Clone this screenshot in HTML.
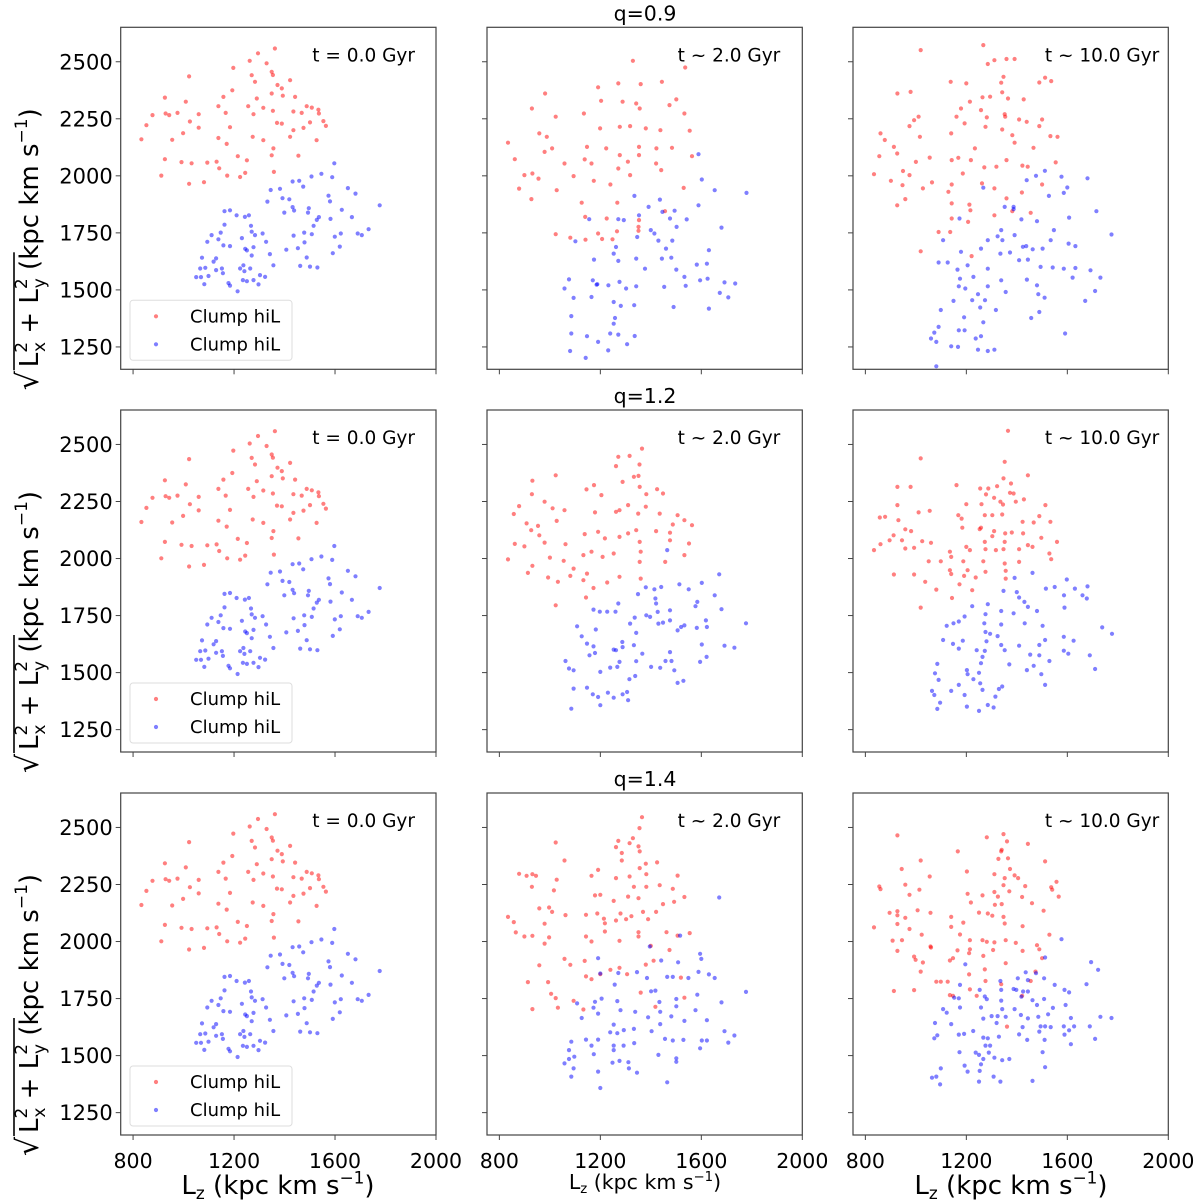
<!DOCTYPE html>
<html><head><meta charset="utf-8"><style>
html,body{margin:0;padding:0;background:#fff;}
svg{display:block;font-family:"DejaVu Sans","Liberation Sans",sans-serif;}
</style></head><body>
<svg id="chart" width="1200" height="1204" viewBox="0 0 1200 1204" xmlns="http://www.w3.org/2000/svg"></svg>
<script>
const xTicks=[800,1200,1600,2000];
const yTicks=[1250,1500,1750,2000,2250,2500];
const qLabels=["q=0.9","q=1.2","q=1.4"];
const tLabels=["t = 0.0 Gyr","t ~ 2.0 Gyr","t ~ 10.0 Gyr"];
const legendLabels=["Clump hiL","Clump hiL"];
const t0Red=[[833,2160],[853,2222],[877,2266],[926,2343],[929,2273],[943,2266],[976,2276],[1022,2436],[1009,2325],[1025,2238],[1060,2270],[1060,2211],[998,2187],[955,2158],[926,2073],[912,2001],[992,2060],[1032,2055],[1022,1965],[1081,1972],[1094,2058],[1131,2062],[1141,2033],[1173,2001],[1138,2305],[1158,2346],[1197,2473],[1193,2375],[1167,2276],[1184,2213],[1138,2166],[1171,2140],[1215,2086],[1224,1995],[1244,2013],[1251,2068],[1262,2504],[1295,2537],[1270,2441],[1283,2412],[1290,2339],[1256,2305],[1277,2270],[1274,2171],[1316,2156],[1316,2298],[1329,2493],[1349,2456],[1354,2442],[1362,2558],[1372,2398],[1389,2383],[1393,2351],[1349,2361],[1354,2285],[1370,2232],[1356,2120],[1349,2090],[1358,2017],[1389,2229],[1422,2419],[1442,2346],[1435,2282],[1422,2171],[1455,2088],[1488,2305],[1508,2299],[1468,2276],[1475,2210],[1501,2234],[1534,2290],[1536,2273],[1554,2240],[1564,2219],[1527,2156],[1435,2200]];
const t0Blue=[[1597,2055],[1546,2009],[1589,1994],[1507,1997],[1458,1978],[1432,1975],[1474,1953],[1651,1946],[1681,1922],[1777,1871],[1574,1913],[1580,1888],[1627,1851],[1667,1819],[1582,1811],[1536,1819],[1496,1858],[1493,1839],[1432,1863],[1438,1848],[1399,1839],[1419,1897],[1392,1902],[1382,1943],[1345,1938],[1332,1887],[1599,1733],[1623,1747],[1619,1690],[1690,1747],[1706,1740],[1733,1766],[1528,1807],[1515,1781],[1508,1744],[1478,1751],[1479,1708],[1453,1683],[1436,1738],[1407,1676],[1488,1642],[1462,1605],[1501,1602],[1530,1598],[1591,1661],[1356,1608],[1342,1657],[1327,1711],[1313,1747],[1283,1740],[1270,1755],[1267,1781],[1259,1827],[1243,1820],[1210,1827],[1184,1849],[1162,1845],[1162,1786],[1147,1751],[1111,1740],[1094,1711],[1138,1722],[1158,1695],[1184,1692],[1231,1727],[1244,1680],[1251,1673],[1277,1687],[1270,1651],[1237,1608],[1224,1594],[1241,1582],[1264,1594],[1303,1565],[1323,1557],[1297,1524],[1277,1543],[1251,1538],[1235,1543],[1214,1494],[1184,1519],[1178,1530],[1156,1573],[1152,1594],[1129,1587],[1099,1561],[1073,1641],[1086,1597],[1066,1594],[1050,1556],[1069,1556],[1082,1525],[1129,1638],[1119,1624]];
const q09t2Red=[[1329,2504],[1536,2475],[1191,2388],[1271,2405],[1360,2402],[1444,2412],[981,2361],[929,2295],[1023,2259],[958,2186],[988,2171],[1203,2329],[1288,2325],[1342,2317],[1356,2295],[1501,2335],[1474,2310],[1533,2273],[1135,2273],[1199,2208],[1277,2215],[1318,2218],[1380,2208],[1438,2200],[1554,2198],[834,2145],[861,2073],[979,2105],[1009,2120],[1147,2127],[1223,2120],[1353,2127],[1422,2120],[1484,2123],[1058,2054],[1138,2072],[1165,2054],[1277,2091],[1309,2062],[1353,2091],[1421,2054],[899,2003],[931,2010],[878,1944],[955,1988],[1027,1937],[1094,1999],[1174,1978],[1240,1962],[1271,2032],[1318,2003],[1441,2025],[1530,1947],[927,1898],[1563,2086],[1126,1882],[1267,1882],[1140,1820],[1225,1813],[1353,1806],[1351,1776],[1023,1744],[1081,1729],[1141,1720],[1191,1747],[1207,1723],[1266,1757],[1351,1759],[1456,1845],[1248,1722]];
const q09t2Blue=[[1589,2095],[1602,1984],[1653,1937],[1779,1925],[1335,1912],[1436,1896],[1589,1871],[1391,1864],[1446,1842],[1494,1847],[1542,1809],[1476,1813],[1502,1776],[1680,1773],[1353,1827],[1156,1810],[1271,1810],[1293,1806],[1400,1762],[1414,1747],[1346,1732],[1101,1713],[1430,1716],[1460,1681],[1485,1716],[1630,1674],[1262,1688],[1253,1659],[1175,1633],[1271,1627],[1342,1637],[1377,1593],[1444,1637],[1481,1641],[1582,1611],[1622,1615],[1501,1589],[1533,1557],[1595,1542],[1625,1549],[1692,1533],[1734,1528],[1076,1546],[1058,1506],[1170,1542],[1188,1525],[1232,1520],[1276,1535],[1302,1506],[1342,1516],[1453,1513],[1538,1518],[1094,1465],[1165,1469],[1253,1447],[1281,1430],[1334,1433],[1490,1425],[1673,1487],[1707,1467],[1630,1418],[1085,1385],[1258,1377],[1253,1352],[1085,1309],[1147,1297],[1191,1272],[1239,1309],[1271,1304],[1336,1298],[1306,1262],[1080,1232],[1142,1202],[1231,1235],[1185,1523]];
const q09t10Red=[[1267,2573],[1019,2551],[1285,2490],[1311,2507],[1359,2512],[1391,2512],[1347,2434],[1138,2412],[1200,2405],[1338,2408],[1489,2409],[1512,2430],[1536,2415],[927,2361],[979,2368],[1214,2325],[1264,2344],[1294,2347],[1342,2366],[1365,2339],[1427,2335],[1011,2259],[993,2244],[1161,2259],[1179,2295],[1258,2288],[1281,2256],[1352,2270],[1354,2259],[1409,2247],[1439,2237],[1500,2247],[860,2186],[877,2157],[913,2127],[975,2218],[1016,2171],[1140,2186],[1193,2230],[1276,2215],[1342,2203],[1382,2178],[1391,2145],[1533,2174],[1561,2171],[1489,2218],[834,2007],[855,2086],[926,2098],[949,2021],[975,2003],[901,1978],[947,1959],[1000,2061],[1055,2080],[1064,1971],[1142,2069],[1168,2079],[1186,2010],[1218,2069],[1234,2120],[1271,2037],[1319,2040],[1359,2069],[1422,2045],[1443,2040],[1466,2123],[1554,2059],[1142,1962],[1129,1930],[1262,1967],[1311,1945],[1359,1901],[1420,1927],[1500,1962],[926,1871],[958,1898],[1028,1945],[1142,1879],[1212,1874],[1216,1849],[1311,1827],[1382,1845],[1455,1838],[1142,1813],[1207,1798],[1090,1754],[1136,1754],[1019,1669],[1221,1648]];
const q09t10Blue=[[1267,1948],[1476,2000],[1511,2022],[1577,1996],[1680,1989],[1439,1981],[1600,1949],[1586,1925],[1527,1912],[1352,1864],[1387,1864],[1387,1854],[1715,1845],[1607,1817],[1418,1809],[1480,1801],[1547,1762],[1173,1813],[1775,1743],[1285,1718],[1338,1762],[1324,1735],[1391,1740],[1343,1718],[1424,1689],[1437,1692],[1463,1678],[1502,1681],[1534,1718],[1605,1703],[1632,1692],[1108,1718],[1179,1667],[1258,1681],[1090,1620],[1126,1620],[1165,1589],[1205,1608],[1285,1593],[1335,1659],[1373,1664],[1409,1630],[1444,1633],[1494,1601],[1542,1598],[1586,1593],[1632,1596],[1692,1586],[1731,1554],[1621,1554],[1175,1549],[1228,1557],[1338,1542],[1440,1545],[1170,1516],[1196,1506],[1246,1481],[1285,1516],[1356,1491],[1480,1520],[1485,1481],[1510,1466],[1710,1495],[1671,1452],[1149,1452],[1223,1455],[1255,1423],[1274,1455],[1099,1412],[1317,1412],[1191,1380],[1267,1358],[1457,1377],[1489,1403],[1073,1313],[1090,1338],[1170,1323],[1193,1323],[1060,1287],[1081,1272],[1237,1287],[1258,1297],[1140,1253],[1167,1250],[1246,1238],[1285,1232],[1311,1238],[1591,1309],[1081,1165]];
const q12t2Red=[[1365,2482],[1271,2446],[1316,2450],[1355,2412],[1023,2365],[931,2341],[1262,2405],[1333,2358],[1351,2362],[1175,2322],[1145,2303],[1288,2336],[1356,2314],[1425,2304],[1448,2285],[1382,2282],[929,2282],[878,2230],[979,2249],[1011,2220],[1058,2212],[857,2195],[908,2154],[953,2143],[1027,2165],[1179,2202],[1204,2278],[1262,2205],[1276,2212],[1310,2234],[1350,2197],[1380,2227],[1435,2197],[1506,2190],[1533,2168],[1563,2146],[1487,2149],[926,2124],[958,2102],[861,2064],[899,2053],[979,2070],[1062,2063],[1138,2107],[1191,2117],[1218,2088],[1276,2095],[1310,2110],[1342,2124],[1421,2120],[1476,2113],[1356,2073],[1476,2080],[1551,2066],[834,1996],[913,1937],[931,1968],[1000,2004],[1055,1990],[1133,2015],[1165,2030],[1209,2007],[1253,2022],[1360,2030],[1356,1985],[1457,1985],[1533,2015],[1094,1956],[1147,1934],[993,1917],[1032,1898],[1081,1924],[1133,1905],[1227,1895],[1276,1920],[1360,1912],[1173,1871],[1143,1829],[1023,1795]];
const q12t2Blue=[[1465,2037],[1671,1931],[1602,1893],[1513,1887],[1550,1865],[1380,1874],[1414,1865],[1441,1875],[1349,1844],[1418,1825],[1421,1803],[1653,1839],[1584,1810],[1577,1791],[1680,1778],[1173,1776],[1198,1767],[1227,1767],[1260,1767],[1271,1803],[1382,1751],[1397,1744],[1427,1766],[1476,1773],[1448,1719],[1430,1715],[1476,1729],[1336,1741],[1318,1715],[1520,1700],[1533,1707],[1582,1696],[1618,1729],[1622,1700],[1777,1716],[1506,1685],[1342,1674],[1182,1689],[1108,1703],[1126,1659],[1147,1627],[1173,1615],[1253,1601],[1262,1598],[1287,1634],[1288,1612],[1333,1620],[1366,1583],[1342,1550],[1276,1547],[1267,1525],[1239,1522],[1200,1503],[1157,1576],[1179,1586],[1062,1551],[1076,1518],[1094,1510],[1401,1525],[1437,1521],[1458,1551],[1482,1551],[1476,1590],[1602,1623],[1621,1569],[1595,1547],[1692,1618],[1731,1609],[1493,1510],[1506,1455],[1529,1464],[1315,1471],[1338,1485],[1094,1430],[1147,1434],[1170,1405],[1230,1412],[1253,1390],[1288,1405],[1310,1379],[1306,1415],[1191,1393],[1200,1357],[1085,1342]];
const q12t10Red=[[1365,2560],[1019,2439],[1352,2424],[1444,2365],[1347,2351],[1377,2329],[927,2314],[979,2314],[1255,2307],[1287,2307],[1322,2317],[1161,2322],[1278,2281],[1373,2288],[1387,2285],[1310,2266],[1260,2238],[1335,2249],[1345,2237],[1396,2249],[1428,2259],[1200,2238],[1513,2234],[927,2234],[1011,2202],[1055,2209],[857,2180],[878,2183],[931,2168],[1168,2190],[1181,2175],[1273,2190],[1303,2190],[1342,2193],[1489,2186],[1423,2161],[1467,2158],[1533,2161],[958,2128],[981,2120],[1258,2135],[1253,2129],[1310,2120],[1354,2110],[1380,2114],[1425,2110],[1184,2135],[912,2102],[896,2080],[945,2080],[1025,2076],[1060,2069],[834,2037],[860,2063],[958,2044],[993,2047],[1273,2073],[1303,2098],[1352,2073],[1444,2059],[1497,2091],[1462,2051],[1559,2073],[1200,2051],[1214,2037],[1276,2041],[1317,2037],[1347,2041],[1409,2041],[1529,2022],[1536,1997],[1135,2030],[1140,2007],[1051,1988],[1099,1988],[1188,1988],[1267,1988],[1352,1978],[1409,1985],[1135,1949],[1205,1949],[1276,1942],[1356,1946],[1140,1932],[1191,1924],[1237,1917],[1356,1912],[913,1930],[993,1930],[1037,1898],[1173,1887],[1081,1864],[1223,1861],[1143,1827],[1019,1785]];
const q12t10Blue=[[1391,1915],[1462,1937],[1598,1908],[1515,1868],[1550,1875],[1630,1868],[1680,1878],[1347,1858],[1400,1853],[1409,1829],[1430,1810],[1587,1839],[1660,1839],[1677,1825],[1444,1788],[1589,1785],[1223,1791],[1285,1800],[1338,1770],[1387,1760],[1480,1770],[1276,1756],[1193,1746],[1170,1724],[1149,1716],[1122,1705],[1271,1716],[1338,1711],[1431,1716],[1502,1705],[1738,1698],[1777,1670],[1276,1678],[1294,1670],[1324,1660],[1108,1643],[1147,1626],[1186,1640],[1280,1637],[1338,1621],[1409,1618],[1489,1621],[1512,1643],[1586,1657],[1625,1640],[1586,1596],[1604,1583],[1689,1576],[1170,1605],[1241,1598],[1273,1595],[1352,1598],[1453,1579],[1489,1576],[1529,1551],[1264,1569],[1258,1541],[1370,1536],[1467,1530],[1440,1511],[1710,1516],[1085,1538],[1076,1497],[1090,1468],[1202,1511],[1250,1499],[1205,1493],[1497,1493],[1512,1446],[1228,1471],[1255,1453],[1170,1446],[1140,1420],[1064,1420],[1193,1402],[1264,1424],[1329,1428],[1342,1439],[1315,1395],[1073,1402],[1096,1368],[1085,1341],[1202,1351],[1250,1332],[1285,1358],[1308,1347]];
const q14t2Red=[[1365,2545],[1355,2497],[1329,2453],[1271,2441],[1316,2431],[1351,2417],[1356,2395],[1262,2414],[1285,2388],[1023,2434],[1058,2355],[1285,2355],[1380,2341],[1425,2347],[1356,2322],[1191,2314],[1165,2288],[1262,2278],[1316,2285],[1382,2295],[1506,2289],[878,2297],[908,2288],[931,2295],[945,2288],[929,2240],[1027,2271],[1016,2224],[1333,2240],[1382,2240],[1435,2247],[1487,2231],[1533,2195],[1179,2202],[1200,2205],[1253,2178],[1310,2197],[1351,2190],[1448,2164],[1492,2174],[958,2145],[997,2149],[1009,2130],[834,2108],[857,2085],[979,2078],[1062,2116],[1143,2117],[1188,2123],[1214,2100],[1280,2123],[1323,2111],[1369,2130],[1421,2130],[1218,2080],[1262,2092],[1302,2098],[1389,2098],[865,2040],[899,2022],[931,2025],[997,2018],[979,1991],[1143,2022],[1165,2000],[1218,2044],[1276,2003],[1351,2041],[1351,2022],[1462,2041],[1506,2026],[1554,2037],[1474,1963],[1400,1981],[1138,1915],[1058,1924],[1081,1898],[958,1896],[1143,1847],[1165,1835],[1200,1857],[1240,1876],[1276,1885],[1306,1857],[1380,1899],[1411,1916],[913,1822],[993,1822],[1005,1771],[1023,1752],[931,1704],[1032,1710],[1094,1740],[1133,1702],[1360,1776],[1418,1714],[1533,1754],[1519,1842]];
const q14t2Blue=[[1671,2193],[1516,2026],[1396,1978],[1595,1946],[1600,1924],[1191,1927],[1441,1917],[1508,1909],[1200,1860],[1271,1862],[1345,1866],[1385,1840],[1465,1845],[1487,1845],[1549,1840],[1589,1867],[1630,1856],[1653,1840],[1257,1811],[1401,1782],[1418,1785],[1777,1779],[1584,1767],[1205,1750],[1179,1736],[1108,1729],[1267,1739],[1280,1699],[1338,1692],[1173,1710],[1434,1735],[1501,1748],[1501,1716],[1680,1733],[1437,1692],[1577,1699],[1191,1684],[1126,1665],[1253,1636],[1389,1668],[1437,1638],[1481,1672],[1533,1652],[1622,1655],[1239,1602],[1267,1598],[1293,1612],[1333,1617],[1403,1607],[1085,1561],[1143,1570],[1191,1570],[1165,1544],[1253,1544],[1292,1544],[1334,1555],[1456,1573],[1487,1566],[1529,1569],[1602,1566],[1622,1566],[1692,1607],[1731,1588],[1595,1532],[1707,1557],[1076,1524],[1097,1495],[1174,1506],[1253,1524],[1430,1503],[1501,1488],[1501,1473],[1058,1466],[1076,1485],[1248,1469],[1276,1477],[1311,1471],[1094,1444],[1191,1430],[1313,1444],[1345,1425],[1085,1408],[1465,1383],[1200,1358]];
const q14t10Red=[[927,2465],[1347,2471],[1361,2439],[1281,2457],[1444,2428],[1166,2395],[1340,2402],[1338,2395],[1327,2362],[1365,2365],[1512,2351],[1019,2355],[944,2318],[1202,2307],[1373,2318],[1311,2295],[1352,2278],[1055,2285],[1391,2290],[1405,2278],[855,2241],[860,2230],[958,2249],[975,2205],[1014,2227],[1347,2247],[1433,2243],[1536,2238],[1540,2227],[1557,2262],[1566,2197],[1205,2209],[1264,2202],[1311,2217],[1325,2197],[1370,2220],[1313,2161],[1340,2164],[1421,2195],[1460,2168],[1218,2171],[896,2126],[927,2133],[927,2115],[958,2104],[1007,2137],[1058,2126],[1250,2127],[1285,2123],[1303,2113],[1347,2108],[1352,2079],[1423,2067],[1506,2135],[834,2062],[927,2077],[975,2055],[1023,2030],[1140,2108],[1140,2064],[1188,2083],[1214,2006],[1175,2031],[1264,2006],[1281,1999],[1311,1996],[1356,2006],[1396,1994],[1480,1984],[1489,1966],[1529,2030],[908,2004],[945,2006],[927,1959],[993,1934],[999,1920],[1028,1908],[1058,1978],[1060,1974],[1135,1917],[1147,1927],[1165,1961],[1214,1966],[1211,1949],[1267,1937],[1306,1963],[1356,1905],[1423,1959],[1474,1868],[1500,1927],[1019,1868],[1081,1824],[1099,1824],[1126,1824],[1273,1878],[1276,1827],[1338,1813],[1211,1856],[913,1783],[993,1787],[1135,1765],[1147,1762],[1214,1790],[1361,1627],[1421,1762],[1241,1762],[1455,1827]];
const q14t10Blue=[[1577,2010],[1512,1930],[1694,1910],[1722,1876],[1196,1900],[1435,1865],[1476,1861],[1404,1839],[1444,1831],[1508,1839],[1335,1827],[1175,1810],[1398,1788],[1387,1792],[1338,1788],[1425,1781],[1444,1781],[1550,1810],[1589,1788],[1607,1777],[1676,1813],[1253,1788],[1273,1759],[1152,1754],[1170,1751],[1281,1747],[1338,1741],[1418,1758],[1462,1743],[1480,1722],[1508,1748],[1543,1709],[1593,1722],[1108,1704],[1122,1688],[1175,1711],[1258,1711],[1342,1704],[1391,1704],[1300,1673],[1324,1673],[1356,1670],[1416,1678],[1444,1663],[1485,1670],[1524,1681],[1614,1665],[1731,1670],[1775,1665],[1076,1643],[1140,1638],[1267,1662],[1320,1643],[1423,1625],[1494,1628],[1512,1628],[1534,1625],[1586,1628],[1627,1628],[1689,1628],[1589,1592],[1607,1611],[1085,1589],[1073,1576],[1170,1592],[1191,1595],[1227,1608],[1267,1579],[1285,1576],[1329,1583],[1409,1593],[1489,1605],[1510,1569],[1441,1569],[1276,1544],[1294,1544],[1710,1573],[1614,1550],[1173,1515],[1237,1513],[1250,1503],[1289,1513],[1502,1515],[1267,1485],[1311,1491],[1342,1480],[1370,1485],[1193,1456],[1258,1462],[1512,1449],[1205,1430],[1253,1433],[1099,1444],[1064,1403],[1081,1408],[1096,1374],[1308,1408],[1335,1386],[1250,1386],[1462,1389]];

const panelData=[
 [[t0Red,t0Blue],[q09t2Red,q09t2Blue],[q09t10Red,q09t10Blue]],
 [[t0Red,t0Blue],[q12t2Red,q12t2Blue],[q12t10Red,q12t10Blue]],
 [[t0Red,t0Blue],[q14t2Red,q14t2Blue],[q14t10Red,q14t10Blue]]
];
const NS="http://www.w3.org/2000/svg";
const svg=document.getElementById('chart');
const colLeft=[120.7,487,853], rowTop=[27.3,410,793], PW=315.3, PH=342;
const annRight=[21,22,9];
const XMIN=751,XMAX=2000,YMIN=1152,YMAX=2651;
function mk(tag,attrs,parent){const e=document.createElementNS(NS,tag);for(const k in attrs)e.setAttribute(k,attrs[k]);(parent||svg).appendChild(e);return e;}
function xs(c,v){return colLeft[c]+(v-XMIN)/(XMAX-XMIN)*PW;}
function ys(r,v){return rowTop[r]+PH-(v-YMIN)/(YMAX-YMIN)*PH;}
const colors=["rgba(255,0,0,0.5)","rgba(0,0,255,0.5)"];
for(let r=0;r<3;r++){
 for(let c=0;c<3;c++){
  const g=mk('g',{});
  
  
  const clipId='clip'+r+c;
  const cp=mk('clipPath',{id:clipId},g);
  mk('rect',{x:colLeft[c],y:rowTop[r],width:PW,height:PH},cp);
  const pts=mk('g',{'clip-path':'url(#'+clipId+')'},g);
  panelData[r][c].forEach((series,si)=>{
   const sg=mk('g',{fill:colors[si]},pts);
   
   
   series.forEach(p=>{
    const dot=mk('circle',{cx:xs(c,p[0]).toFixed(1),cy:ys(r,p[1]).toFixed(1),r:2.1},sg);
    
    
   });
  });
  const frame=mk('rect',{x:colLeft[c],y:rowTop[r],width:PW,height:PH,fill:'none',stroke:'#444','stroke-width':1.2},g);
  
  
  xTicks.forEach(t=>{
   const x=xs(c,t);
   mk('line',{x1:x,x2:x,y1:rowTop[r]+PH,y2:rowTop[r]+PH+5,stroke:'#444','stroke-width':1},g);
   if(r===2){
    const tl=mk('text',{x:x,y:1168,'text-anchor':'middle','font-size':20.5,fill:'#000'},g);
    tl.textContent=t;
    
    
   }
  });
  yTicks.forEach(t=>{
   const y=ys(r,t);
   mk('line',{x1:colLeft[c]-5,x2:colLeft[c],y1:y,y2:y,stroke:'#444','stroke-width':1},g);
   if(c===0){
    const tl=mk('text',{x:colLeft[c]-8,y:y+7.5,'text-anchor':'end','font-size':21,fill:'#000'},g);
    tl.textContent=t;
    
    
   }
  });
  const ann=mk('text',{x:colLeft[c]+PW-annRight[c],y:rowTop[r]+34,'text-anchor':'end','font-size':18.5,fill:'#000'},g);
  ann.textContent=tLabels[c];
  
  
  if(c===0){
   const lg=mk('g',{},g);
   
   
   mk('rect',{x:130,y:rowTop[r]+273,width:162,height:60,rx:3,fill:'#fff',stroke:'#ddd'},lg);
   legendLabels.forEach((lab,i)=>{
    const yy=rowTop[r]+289+i*28;
    mk('circle',{cx:156,cy:yy,r:2.1,fill:colors[i]},lg);
    const lt=mk('text',{x:190,y:yy+6,'font-size':18,fill:'#000'},lg);
    lt.textContent=lab;
    
    
   });
   const cy=rowTop[r]+185;
   const yt=mk('g',{transform:'translate(38,'+cy+') rotate(-90)'},g);
   
   
   const rad=mk('text',{x:-178,y:0,'font-size':30,fill:'#000'},yt);
   rad.textContent='√';
   mk('line',{x1:-158,x2:-40,y1:-24,y2:-24,stroke:'#000','stroke-width':1.6},yt);
   const tt=mk('text',{x:-155,y:0,'font-size':26,fill:'#000'},yt);
   tt.innerHTML='L<tspan font-size="17" dy="-11">2</tspan><tspan font-size="17" dx="-10" dy="18">x</tspan><tspan dy="-7"> + L</tspan><tspan font-size="17" dy="-11">2</tspan><tspan font-size="17" dx="-10" dy="18">y</tspan><tspan dy="-7"> (kpc km s</tspan><tspan font-size="17" dy="-11">−1</tspan><tspan dy="11">)</tspan>';
  }
 }
 const qt=mk('text',{x:645,y:rowTop[r]-7,'text-anchor':'middle','font-size':20.5,fill:'#000'});
 qt.textContent=qLabels[r];
 
 
}
const xl=[[278,26],[645,20.5],[1011,26]];
xl.forEach((d,c)=>{
 const t=mk('text',{x:d[0],y:c===1?1189:1194,'text-anchor':'middle','font-size':d[1],fill:'#000'});
 const s=d[1]*0.65;
 t.innerHTML='L<tspan font-size="'+s+'" dy="'+(d[1]*0.2)+'">z</tspan><tspan dy="'+(-d[1]*0.2)+'"> (kpc km s</tspan><tspan font-size="'+s+'" dy="'+(-d[1]*0.4)+'">−1</tspan><tspan dy="'+(d[1]*0.4)+'">)</tspan>';
 
 
});
</script>
</body></html>
